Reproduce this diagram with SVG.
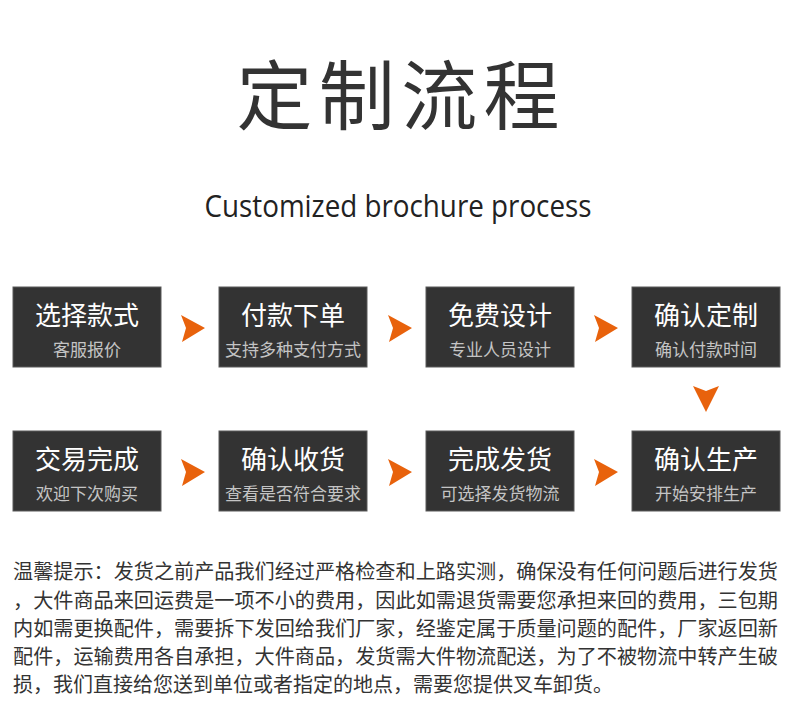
<svg xmlns="http://www.w3.org/2000/svg" width="790" height="713" viewBox="0 0 790 713">
<style>
.box{fill:#333333;stroke:#5a5a5a;stroke-width:1}
.t{font-family:"Noto Sans CJK SC","Noto Sans",sans-serif;fill:#ffffff;font-size:26px;text-anchor:middle}
.s{font-family:"Noto Sans CJK SC","Noto Sans",sans-serif;fill:#c4c4c4;font-size:17px;text-anchor:middle}
.arr{fill:#e8620c}
.p{font-family:"Noto Sans CJK SC","Noto Sans",sans-serif;fill:#333333;font-size:20px}
</style>
<rect width="790" height="713" fill="#ffffff"/>
<text x="398" y="124" font-family="'Noto Sans CJK SC',sans-serif" font-size="76" fill="#333333" text-anchor="middle" textLength="323" lengthAdjust="spacing">定制流程</text>
<text x="398" y="217" font-family="'Open Sans','Noto Sans',sans-serif" font-size="31" fill="#222222" text-anchor="middle" textLength="387" lengthAdjust="spacingAndGlyphs">Customized brochure process</text>

<g id="n1"><rect class="box" x="13" y="287" width="148" height="80"/><text class="t" x="87" y="325">选择款式</text><text class="s" x="87" y="356">客服报价</text></g>
<g id="n2"><rect class="box" x="219" y="287" width="148" height="80"/><text class="t" x="293" y="325">付款下单</text><text class="s" x="293" y="356">支持多种支付方式</text></g>
<g id="n3"><rect class="box" x="426" y="287" width="148" height="80"/><text class="t" x="500" y="325">免费设计</text><text class="s" x="500" y="356">专业人员设计</text></g>
<g id="n4"><rect class="box" x="632" y="287" width="148" height="80"/><text class="t" x="706" y="325">确认定制</text><text class="s" x="706" y="356">确认付款时间</text></g>
<g id="n5"><rect class="box" x="632" y="431" width="148" height="80"/><text class="t" x="706" y="469">确认生产</text><text class="s" x="706" y="500">开始安排生产</text></g>
<g id="n6"><rect class="box" x="426" y="431" width="148" height="80"/><text class="t" x="500" y="469">完成发货</text><text class="s" x="500" y="500">可选择发货物流</text></g>
<g id="n7"><rect class="box" x="219" y="431" width="148" height="80"/><text class="t" x="293" y="469">确认收货</text><text class="s" x="293" y="500">查看是否符合要求</text></g>
<g id="n8"><rect class="box" x="13" y="431" width="148" height="80"/><text class="t" x="87" y="469">交易完成</text><text class="s" x="87" y="500">欢迎下次购买</text></g>

<g id="connectors">
<polygon class="arr" points="181,315 205,328 182,342 186,328"/>
<polygon class="arr" points="388,315 412,328 389,342 393,328"/>
<polygon class="arr" points="594,315 618,328 595,342 599,328"/>
<polygon class="arr" points="693,386 706,391 719,386 706,412"/>
<polygon class="arr" points="181,459 205,472 182,486 186,472"/>
<polygon class="arr" points="388,459 412,472 389,486 393,472"/>
<polygon class="arr" points="594,459 618,472 595,486 599,472"/>
</g>

<g id="notes">
<text class="p" x="13" y="579" textLength="765" lengthAdjust="spacingAndGlyphs">温馨提示：发货之前产品我们经过严格检查和上路实测，确保没有任何问题后进行发货</text>
<text class="p" x="13" y="608" textLength="765" lengthAdjust="spacingAndGlyphs">，大件商品来回运费是一项不小的费用，因此如需退货需要您承担来回的费用，三包期</text>
<text class="p" x="13" y="636" textLength="765" lengthAdjust="spacingAndGlyphs">内如需更换配件，需要拆下发回给我们厂家，经鉴定属于质量问题的配件，厂家返回新</text>
<text class="p" x="13" y="664" textLength="765" lengthAdjust="spacingAndGlyphs">配件，运输费用各自承担，大件商品，发货需大件物流配送，为了不被物流中转产生破</text>
<text class="p" x="13" y="692">损，我们直接给您送到单位或者指定的地点，需要您提供叉车卸货。</text>
</g>
</svg>
